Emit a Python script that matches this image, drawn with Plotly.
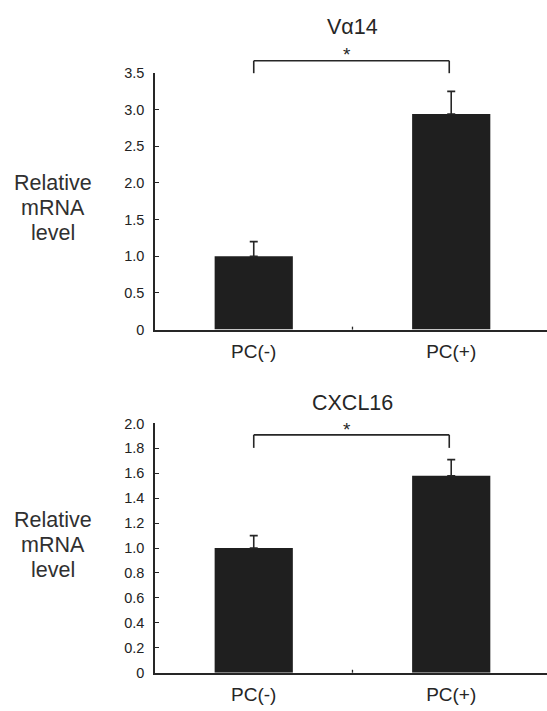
import plotly.graph_objects as go

# Group labels and measured relative mRNA levels (mean and upper SD)
categories = ["PC(-)", "PC(+)"]

va14_values = [1.00, 2.94]
va14_errors = [0.20, 0.31]

cxcl16_values = [1.00, 1.58]
cxcl16_errors = [0.10, 0.13]

va14_tickvals = [0, 0.5, 1.0, 1.5, 2.0, 2.5, 3.0, 3.5]
va14_ticktext = ["0", "0.5", "1.0", "1.5", "2.0", "2.5", "3.0", "3.5"]

cxcl16_tickvals = [0, 0.2, 0.4, 0.6, 0.8, 1.0, 1.2, 1.4, 1.6, 1.8, 2.0]
cxcl16_ticktext = ["0", "0.2", "0.4", "0.6", "0.8", "1.0", "1.2", "1.4", "1.6", "1.8", "2.0"]

panel_titles = ["V\u03b114", "CXCL16"]
y_label_lines = ["Relative", "mRNA", "level"]

FONT = "Liberation Sans, Arial, Helvetica, sans-serif"
INK = "#262626"
BAR = "#1f1f1f"

W, H = 547, 711


def py(px):
    """Convert a pixel row (from the top) to paper y."""
    return (H - px) / H


fig = go.Figure()

for i, (vals, errs) in enumerate([(va14_values, va14_errors),
                                  (cxcl16_values, cxcl16_errors)]):
    suffix = "" if i == 0 else "2"
    fig.add_trace(go.Bar(
        x=categories,
        y=vals,
        width=0.396,
        marker=dict(color=BAR, line=dict(width=0)),
        error_y=dict(type="data", symmetric=False, array=errs,
                     arrayminus=[0] * len(errs),
                     color=INK, thickness=1.6, width=4),
        xaxis="x" + suffix,
        yaxis="y" + suffix,
        showlegend=False,
        hoverinfo="skip",
    ))

x_common = dict(
    type="category",
    range=[-0.5, 1.485],
    showline=True, linecolor=INK, linewidth=1.5,
    ticks="", showgrid=False, zeroline=False,
    tickfont=dict(family=FONT, size=19, color=INK),
    ticklabelstandoff=4,
)
y_common = dict(
    showline=True, linecolor=INK, linewidth=1.5,
    ticks="inside", ticklen=4, tickwidth=1.3, tickcolor=INK,
    showgrid=False, zeroline=False,
    tickfont=dict(family=FONT, size=14.5, color="#222222"),
    ticklabelstandoff=6,
    tickmode="array",
)

fig.update_layout(
    width=W, height=711,
    margin=dict(l=0, r=0, t=0, b=0),
    paper_bgcolor="white", plot_bgcolor="white",
    bargap=0.5,
    xaxis=dict(domain=[155 / W, 1], anchor="y", **x_common),
    yaxis=dict(domain=[py(329), py(66.5)], anchor="x", range=[0, 3.5],
               tickvals=va14_tickvals, ticktext=va14_ticktext, **y_common),
    xaxis2=dict(domain=[155 / W, 1], anchor="y2", **x_common),
    yaxis2=dict(domain=[py(680), py(425)], anchor="x2", range=[0, 2.0],
                tickvals=cxcl16_tickvals, ticktext=cxcl16_ticktext, **y_common),
)

annotations = []
shapes = []

# Panel titles, y labels, significance brackets and stars
panels = [
    dict(xref="x", title_y=19, label_y=205, bracket=54, drop=66.7, star=48,
         axis_y=329),
    dict(xref="x2", title_y=404, label_y=549, bracket=436.7, drop=450, star=431,
         axis_y=680),
]

for title, p in zip(panel_titles, panels):
    annotations.append(dict(
        text=title, x=0.5, xref=p["xref"], y=py(p["title_y"]), yref="paper",
        showarrow=False, xanchor="center", yanchor="middle",
        font=dict(family=FONT, size=21.5, color=INK),
    ))
    for k, word in enumerate(y_label_lines):
        annotations.append(dict(
            text=word, x=53 / W, xref="paper",
            y=py(p["label_y"] + (k - 1) * 25.5), yref="paper",
            showarrow=False, xanchor="center", yanchor="middle",
            font=dict(family=FONT, size=21.5, color="#303030"),
        ))
    annotations.append(dict(
        text="*", x=0.47, xref=p["xref"], y=py(p["star"]), yref="paper",
        showarrow=False, xanchor="center", yanchor="middle",
        font=dict(family=FONT, size=19, color=INK),
    ))
    line = dict(color=INK, width=1.6)
    shapes.append(dict(type="line", xref=p["xref"], yref="paper",
                       x0=0, x1=0.99, y0=py(p["bracket"]), y1=py(p["bracket"]),
                       line=line))
    shapes.append(dict(type="line", xref=p["xref"], yref="paper",
                       x0=0, x1=0, y0=py(p["bracket"]), y1=py(p["drop"]),
                       line=line))
    shapes.append(dict(type="line", xref=p["xref"], yref="paper",
                       x0=0.99, x1=0.99, y0=py(p["bracket"]), y1=py(p["drop"]),
                       line=line))
    # small divider tick between the two groups on the x axis
    shapes.append(dict(type="line", xref=p["xref"], yref="paper",
                       x0=0.5, x1=0.5, y0=py(p["axis_y"]), y1=py(p["axis_y"] - 3),
                       line=dict(color=INK, width=1.3)))

fig.update_layout(annotations=annotations, shapes=shapes)

fig.write_html("out.html")
